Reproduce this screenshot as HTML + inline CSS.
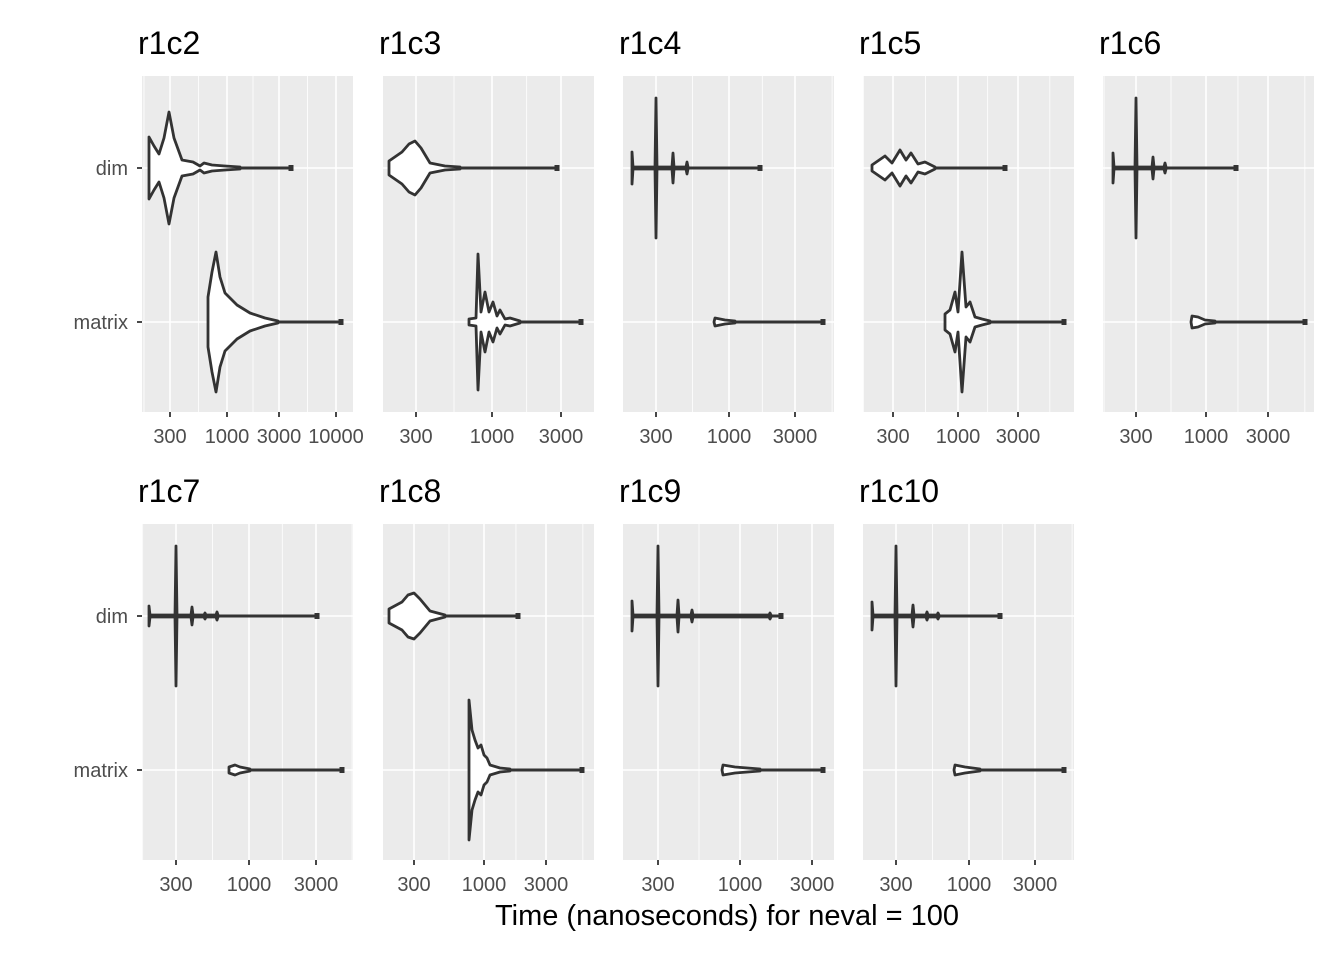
<!DOCTYPE html>
<html><head><meta charset="utf-8"><style>
body{margin:0;background:#fff;}
svg{display:block;font-family:"Liberation Sans",Arial,sans-serif;}
</style></head><body>
<svg id="s" width="1344" height="960" xmlns="http://www.w3.org/2000/svg"></svg>
<script>
const s=document.getElementById('s');let h='';
const panels=[
 {t:'r1c2',x0:142,y0:76,ticks:[[300,170],[1000,227],[3000,279],[10000,336]],
  dim:{pts:[[149,0],[149,31],[154,22],[159,14],[164,30],[169,56],[174,30],[182,8],[193,6],[200,2],[204,5],[212,3],[225,2],[240,1]],end:291},
  mat:{pts:[[208,0],[208,25],[212,50],[216,70],[220,45],[225,29],[237,17],[250,9],[265,4],[278,1]],end:341}},
 {t:'r1c3',x0:383,y0:76,ticks:[[300,416],[1000,492],[3000,561]],
  dim:{pts:[[389,0],[389,7],[402,16],[409,24],[415,27],[421,20],[430,5],[445,2],[460,1]],end:557},
  mat:{pts:[[469,0],[469,3],[476,4],[478,68],[481,10],[485,30],[489,10],[493,20],[497,6],[500,12],[505,3],[510,4],[520,1]],end:581}},
 {t:'r1c4',x0:623,y0:76,ticks:[[300,656],[1000,729],[3000,795]],
  dim:{pts:[[632,0],[632,16],[633,1],[655,1],[656,70],[657,1],[672,1],[673,15],[674,1],[686,1],[687,6],[688,1]],end:760},
  mat:{pts:[[714,0],[715,4],[725,2],[735,1]],end:823}},
 {t:'r1c5',x0:863,y0:76,ticks:[[300,893],[1000,958],[3000,1018]],
  dim:{pts:[[872,0],[872,3],[885,12],[892,5],[900,18],[906,8],[911,15],[918,4],[925,6],[935,1]],end:1005},
  mat:{pts:[[945,0],[945,8],[950,12],[955,30],[958,10],[962,70],[966,15],[970,20],[975,5],[982,3],[990,1]],end:1064}},
 {t:'r1c6',x0:1103,y0:76,ticks:[[300,1136],[1000,1206],[3000,1268]],
  dim:{pts:[[1113,0],[1113,15],[1114,1],[1135,1],[1136,70],[1137,1],[1152,1],[1153,11],[1154,1],[1164,1],[1165,5],[1166,1]],end:1236},
  mat:{pts:[[1191,0],[1192,6],[1198,5],[1205,2],[1215,1]],end:1305}},
 {t:'r1c7',x0:142,y0:524,ticks:[[300,176],[1000,249],[3000,316]],
  dim:{pts:[[149,0],[149,10],[150,1],[175,1],[176,70],[177,1],[191,1],[192,9],[193,1],[204,1],[205,3],[206,1],[216,1],[217,4],[218,1]],end:317},
  mat:{pts:[[229,0],[229,3],[235,5],[240,3],[250,1]],end:342}},
 {t:'r1c8',x0:383,y0:524,ticks:[[300,414],[1000,484],[3000,546]],
  dim:{pts:[[389,0],[389,7],[402,14],[408,21],[414,23],[420,17],[430,5],[445,1]],end:518},
  mat:{pts:[[469,0],[469,70],[472,40],[475,30],[478,22],[481,25],[484,15],[487,12],[490,5],[500,2],[510,1]],end:582}},
 {t:'r1c9',x0:623,y0:524,ticks:[[300,658],[1000,740],[3000,812]],
  dim:{pts:[[632,0],[632,15],[633,1],[657,1],[658,70],[659,1],[677,1],[678,16],[679,1],[691,1],[692,6],[693,1],[769,1],[770,3],[771,1]],end:781},
  mat:{pts:[[722,0],[723,5],[735,3],[760,1]],end:823}},
 {t:'r1c10',x0:863,y0:524,ticks:[[300,896],[1000,969],[3000,1035]],
  dim:{pts:[[872,0],[872,14],[873,1],[895,1],[896,70],[897,1],[912,1],[913,11],[914,1],[926,1],[927,4],[928,1],[937,1],[938,3],[939,1]],end:1000},
  mat:{pts:[[954,0],[955,5],[965,3],[980,1]],end:1064}}
];
const W=211,H=336;
function violin(v,yc){
  let top=v.pts.map(p=>`${p[0]},${yc-p[1]}`);
  let bot=v.pts.slice().reverse().map(p=>`${p[0]},${yc+p[1]}`);
  return `<line x1="${v.pts[0][0]}" y1="${yc}" x2="${v.end}" y2="${yc}" stroke="#333" stroke-width="3"/>`+
  `<polygon points="${top.join(' ')} ${bot.join(' ')}" fill="#fff" stroke="#333" stroke-width="2.8" stroke-linejoin="round"/>`+
  `<rect x="${v.end-2.5}" y="${yc-3}" width="5" height="6" fill="#333"/>`;
}
panels.forEach(p=>{
  const x1=p.x0+W,y1=p.y0+H;
  h+=`<text x="${p.x0-4}" y="${p.y0-22}" font-size="32" fill="#000">${p.t}</text>`;
  h+=`<rect x="${p.x0}" y="${p.y0}" width="${W}" height="${H}" fill="#ebebeb"/>`;
  const a=p.ticks[0],b=p.ticks[1];
  const k=(b[1]-a[1])/Math.log10(b[0]/a[0]);
  const px=v=>a[1]+k*Math.log10(v/a[0]);
  [173.2,547.7,1732,5477,17320].forEach(m=>{const x=px(m);if(x>p.x0&&x<x1)h+=`<line x1="${x}" y1="${p.y0}" x2="${x}" y2="${y1}" stroke="#fff" stroke-width="0.8"/>`;});
  p.ticks.forEach(t=>{h+=`<line x1="${t[1]}" y1="${p.y0}" x2="${t[1]}" y2="${y1}" stroke="#fff" stroke-width="1.6"/>`;
    h+=`<line x1="${t[1]}" y1="${y1}" x2="${t[1]}" y2="${y1+5}" stroke="#333" stroke-width="1.8"/>`;
    h+=`<text x="${t[1]}" y="${y1+31}" font-size="20" fill="#4d4d4d" text-anchor="middle">${t[0]}</text>`;});
  const yd=p.y0+92,ym=p.y0+246;
  [yd,ym].forEach(y=>h+=`<line x1="${p.x0}" y1="${y}" x2="${x1}" y2="${y}" stroke="#fff" stroke-width="1.6"/>`);
  if(p.x0===142){
    [[yd,'dim'],[ym,'matrix']].forEach(q=>{h+=`<line x1="${p.x0-5}" y1="${q[0]}" x2="${p.x0}" y2="${q[0]}" stroke="#333" stroke-width="1.8"/>`;
    h+=`<text x="${p.x0-14}" y="${q[0]+7}" font-size="20" fill="#4d4d4d" text-anchor="end">${q[1]}</text>`;});
  }
  h+=violin(p.dim,yd)+violin(p.mat,ym);
});
h+=`<text x="727" y="925" font-size="29" fill="#000" text-anchor="middle">Time (nanoseconds) for neval = 100</text>`;
s.innerHTML=h;
</script>
</body></html>
